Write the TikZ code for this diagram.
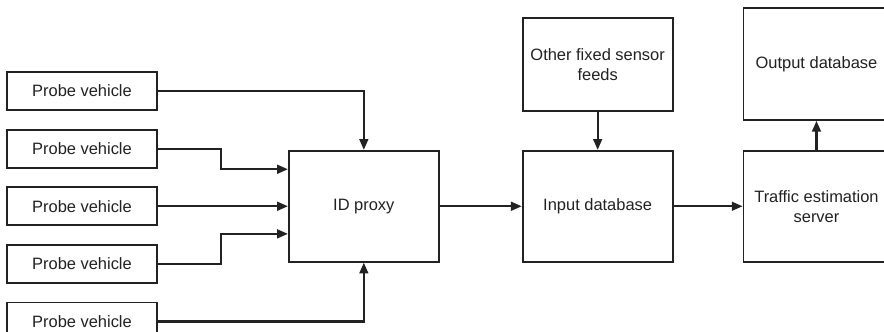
\documentclass[tikz,border=0pt]{standalone}
\usepackage{fontspec}
\setmainfont{Liberation Sans}
\usepackage{tikz}
\usetikzlibrary{arrows.meta,positioning}
\definecolor{cink}{HTML}{222222}

\begin{document}
\begin{tikzpicture}[
  font=\fontsize{11.7pt}{14.2pt}\selectfont,
  box/.style={draw=cink, line width=1.3pt, fill=white, align=center, text=cink,
              inner sep=2pt},
  probe/.style={box, minimum width=37.5mm, minimum height=9.5mm},
  big/.style={box, minimum width=37.5mm, minimum height=27.75mm},
  arr/.style={-{Triangle[length=2.7mm, width=2.2mm]}, line width=1.5pt, cink},
]
\useasboundingbox (0,0) rectangle (221mm,-82.75mm);
% ---------- probe vehicles ----------
\node[probe] (pv1) at (20.5mm,-22.75mm) {Probe vehicle};
\node[probe, below=4.45mm of pv1] (pv2) {Probe vehicle};
\node[probe, below=4.45mm of pv2] (pv3) {Probe vehicle};
\node[probe, below=4.45mm of pv3] (pv4) {Probe vehicle};
\node[probe, below=4.45mm of pv4] (pv5) {Probe vehicle};
% ---------- processing chain ----------
\node[big, right=32.5mm of pv3] (idp) {ID proxy};
\node[big, right=20.5mm of idp] (indb) {Input database};
\node[box, minimum width=37.5mm, minimum height=23.25mm, above=9.5mm of indb] (feeds) {Other fixed sensor\\feeds};
\node[box, minimum width=36.5mm, minimum height=27.75mm, right=17.25mm of indb] (tes) {Traffic estimation\\server};
\node[box, minimum width=36.5mm, minimum height=28mm, above=7.25mm of tes] (outdb) {Output database};
% ---------- connectors ----------
\coordinate (in2) at ([yshift=9.25mm]idp.west);
\coordinate (in4) at ([yshift=-6.9mm]idp.west);
\draw[arr] (pv1) -| (idp);
\draw[arr] (pv2.east) -- ++(15.75mm,0) |- (in2);
\draw[arr] (pv3) -- (idp);
\draw[arr] (pv4.east) -- ++(15.75mm,0) |- (in4);
\draw[arr] (pv5) -| (idp);
\draw[arr] (idp) -- (indb);
\draw[arr] (feeds) -- (indb);
\draw[arr] (indb) -- (tes);
\draw[arr] (tes) -- (outdb);
\end{tikzpicture}
\end{document}
